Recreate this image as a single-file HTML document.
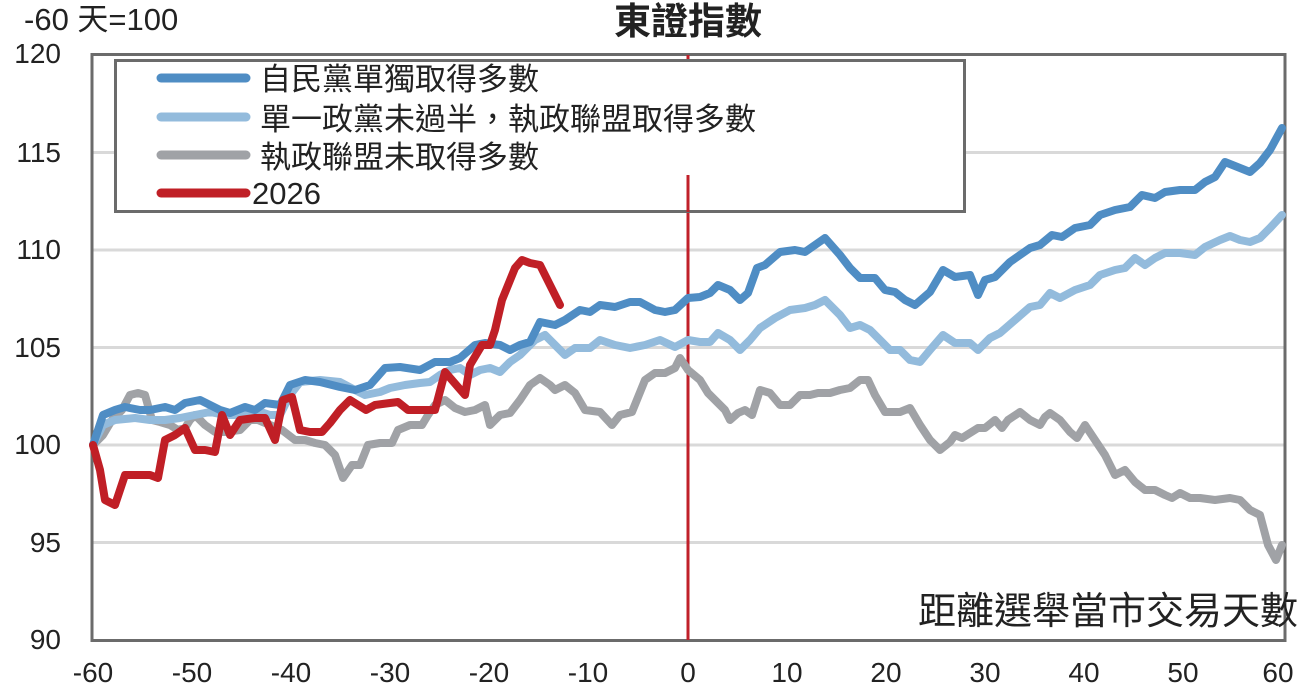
<!DOCTYPE html><html><head><meta charset="utf-8"><style>body{margin:0;background:#fff}svg{display:block}text{font-family:"Liberation Sans","Noto Sans CJK TC",sans-serif;fill:#222}</style></head><body>
<svg width="1305" height="698" viewBox="0 0 1305 698">
<g stroke="#d9d9d9" stroke-width="3">
<line x1="93" y1="152.5" x2="1285" y2="152.5"/><line x1="93" y1="250" x2="1285" y2="250"/><line x1="93" y1="347.5" x2="1285" y2="347.5"/><line x1="93" y1="445" x2="1285" y2="445"/><line x1="93" y1="542.5" x2="1285" y2="542.5"/>
</g>
<rect x="92" y="54.5" width="1193" height="586" fill="none" stroke="#6b6b6b" stroke-width="3"/>
<line x1="688" y1="55" x2="688" y2="640" stroke="#c0202a" stroke-width="3"/>
<g fill="none" stroke-width="8" stroke-linejoin="round" stroke-linecap="round">
<polyline stroke="#a0a2a6" points="93,445 103,435 112,420 122,410 130,395 138,393 145,395 152,420 160,422 170,425 178,430 185,428 190,420 195,415 205,425 215,432 225,432 240,430 250,420 258,420 270,425 282,430 295,440 305,440 315,443 325,445 335,455 343,478 352,465 360,465 368,445 380,443 392,443 398,430 410,425 422,425 428,415 435,405 445,400 455,408 465,412 475,410 485,405 490,425 500,415 510,413 520,400 530,385 540,378 550,385 555,390 565,385 575,393 585,410 600,412 612,425 620,415 632,412 645,380 655,373 665,373 675,368 680,358 688,370 700,380 708,393 715,400 725,410 730,420 738,413 745,410 752,415 760,390 770,393 780,405 790,405 800,395 810,395 818,393 830,393 840,390 850,388 860,380 868,380 875,395 885,412 900,412 910,408 920,425 930,440 940,450 950,442 955,435 962,438 970,433 978,428 985,428 995,420 1002,428 1008,420 1020,412 1030,420 1040,425 1045,417 1050,413 1060,420 1070,432 1077,438 1085,425 1095,440 1105,455 1115,475 1125,470 1135,482 1145,490 1155,490 1165,495 1172,498 1180,493 1190,498 1200,498 1215,500 1230,498 1240,500 1250,510 1260,515 1268,545 1276,560 1282,545"/>
<polyline stroke="#93bbdc" points="93,445 103,425 115,420 135,418 150,420 165,420 180,418 195,415 210,412 225,415 240,415 255,410 270,415 280,415 290,395 300,382 320,380 340,382 355,390 365,395 375,393 380,392 390,388 405,385 420,383 430,382 440,375 450,370 460,368 470,375 480,370 490,368 500,372 510,362 520,355 535,340 545,335 555,345 565,355 575,348 590,348 600,340 615,345 630,348 645,345 660,340 675,347 688,340 700,342 710,342 718,333 730,340 740,350 750,340 760,328 775,318 790,310 805,308 815,305 825,300 840,315 850,328 860,325 870,330 880,340 890,350 900,350 910,360 920,362 930,350 943,335 955,343 970,343 978,350 990,338 1000,333 1015,320 1030,307 1040,305 1050,293 1060,298 1075,290 1090,285 1100,275 1115,270 1125,268 1135,258 1145,265 1155,258 1165,253 1180,253 1195,255 1205,247 1220,240 1230,236 1240,240 1250,242 1260,238 1270,228 1282,215"/>
<polyline stroke="#4f8dc4" points="93,445 103,415 115,410 125,407 140,410 150,410 165,407 175,410 185,403 200,400 210,405 220,410 230,413 245,407 255,410 265,403 280,405 290,385 305,380 320,382 340,387 355,390 370,385 385,368 400,367 420,370 435,362 450,362 460,358 475,345 485,343 500,345 510,350 520,345 530,342 540,322 555,325 565,320 580,310 590,312 600,305 615,307 630,302 640,302 655,310 665,312 675,310 688,298 700,297 710,293 718,285 730,290 740,300 748,293 757,268 765,265 780,252 795,250 805,252 815,245 825,238 840,255 850,268 860,278 875,278 885,290 895,292 905,300 915,305 930,292 943,270 955,277 970,275 978,295 985,280 995,277 1010,262 1020,255 1030,248 1040,245 1052,235 1062,237 1075,228 1090,225 1100,215 1115,210 1130,207 1142,195 1155,198 1165,192 1180,190 1195,190 1205,182 1215,177 1225,162 1240,168 1250,172 1260,163 1270,150 1282,128"/>
<polyline stroke="#c01f26" points="93,445 100,470 105,500 115,505 125,475 140,475 150,475 158,478 165,440 175,435 185,428 195,450 205,450 215,452 222,415 230,435 240,420 255,418 265,418 275,440 283,400 292,397 300,430 310,432 322,432 330,423 340,410 350,400 358,405 366,410 375,405 390,403 398,402 408,410 420,410 435,410 445,372 458,387 465,395 470,365 482,345 490,345 495,330 502,300 515,268 522,260 530,263 540,265 550,285 560,305"/>
</g>
<rect x="115.5" y="60.5" width="849" height="151" fill="#fff" stroke="#6b6b6b" stroke-width="3"/>
<line x1="688" y1="175" x2="688" y2="212" stroke="#c0202a" stroke-width="3"/>
<g stroke-width="9" stroke-linecap="round">
<line x1="161" y1="78" x2="246" y2="78" stroke="#4f8dc4"/>
<line x1="161" y1="117" x2="246" y2="117" stroke="#93bbdc"/>
<line x1="161" y1="155" x2="246" y2="155" stroke="#a0a2a6"/>
<line x1="161" y1="193" x2="246" y2="193" stroke="#c01f26"/>
</g>
<g font-size="31">
<text x="260" y="90">自民黨單獨取得多數</text>
<text x="260" y="130">單一政黨未過半，執政聯盟取得多數</text>
<text x="260" y="168">執政聯盟未取得多數</text>
<text x="252" y="204">2026</text>
</g>
<text x="688" y="34" font-size="37" font-weight="bold" text-anchor="middle">東證指數</text>
<text x="24" y="30" font-size="31">-60 天=100</text>
<g font-size="28" text-anchor="end">
<text x="61" y="63">120</text><text x="61" y="162">115</text><text x="61" y="259">110</text><text x="61" y="357">105</text><text x="61" y="454">100</text><text x="61" y="552">95</text><text x="61" y="649">90</text>
</g>
<g font-size="28" text-anchor="middle">
<text x="93" y="682">-60</text><text x="192" y="682">-50</text><text x="291" y="682">-40</text><text x="390" y="682">-30</text><text x="489" y="682">-20</text><text x="588" y="682">-10</text><text x="688" y="682">0</text><text x="787" y="682">10</text><text x="886" y="682">20</text><text x="985" y="682">30</text><text x="1084" y="682">40</text><text x="1183" y="682">50</text><text x="1278" y="682">60</text>
</g>
<text x="1298" y="624" font-size="38" text-anchor="end">距離選舉當市交易天數</text>
</svg></body></html>
